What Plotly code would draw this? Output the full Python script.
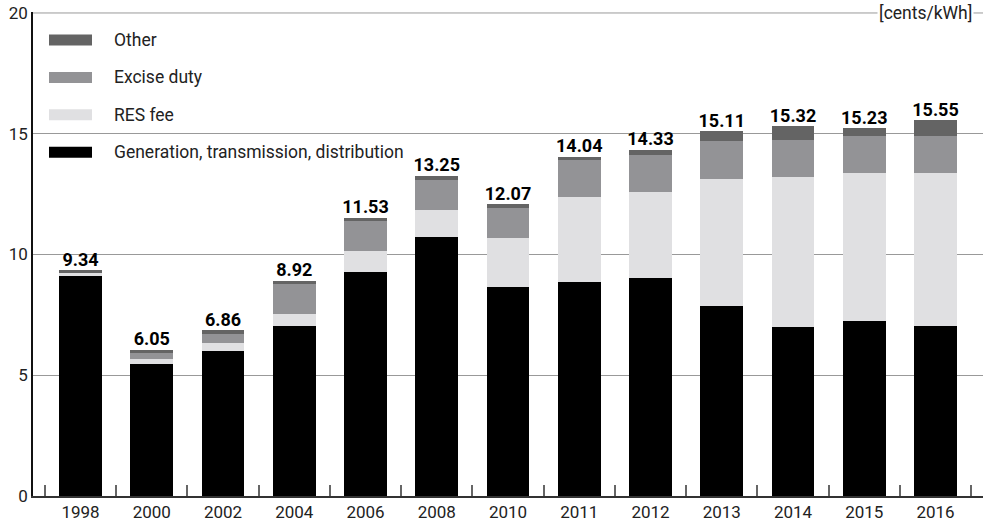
import plotly.graph_objects as go

years = ["1998", "2000", "2002", "2004", "2006", "2008", "2010", "2011", "2012", "2013", "2014", "2015", "2016"]
generation = [9.15, 5.47, 6.00, 7.04, 9.29, 10.72, 8.67, 8.86, 9.01, 7.88, 6.98, 7.23, 7.03]
res_fee = [0.08, 0.20, 0.34, 0.50, 0.85, 1.12, 2.01, 3.52, 3.58, 5.25, 6.23, 6.14, 6.34]
excise = [0.00, 0.26, 0.37, 1.24, 1.25, 1.24, 1.26, 1.53, 1.53, 1.57, 1.53, 1.53, 1.53]
other = [0.11, 0.12, 0.15, 0.14, 0.14, 0.17, 0.13, 0.13, 0.21, 0.41, 0.58, 0.33, 0.65]
totals = [9.34, 6.05, 6.86, 8.92, 11.53, 13.25, 12.07, 14.04, 14.33, 15.11, 15.32, 15.23, 15.55]

series = [
    ("Generation, transmission, distribution", generation, "#000000"),
    ("RES fee", res_fee, "#e0e0e2"),
    ("Excise duty", excise, "#939396"),
    ("Other", other, "#646464"),
]

FONT = "Roboto"
fig = go.Figure()
for name, vals, col in series:
    fig.add_trace(go.Bar(x=years, y=vals, name=name, marker=dict(color=col, line=dict(width=0)),
                         showlegend=False, hoverinfo="y+name"))

fig.add_trace(go.Scatter(x=years, y=totals, mode="text",
                         text=[f"{t:.2f}" for t in totals], textposition="top center",
                         textfont=dict(family=FONT, size=18, color="#000", weight=700),
                         showlegend=False, hoverinfo="skip"))

# manual legend (wide swatches), top to bottom
legend_items = [series[3], series[2], series[1], series[0]]
ml, mr, mt, mb = 33, 4, 12, 32
W, H = 987, 528
pw, ph = W - ml - mr, H - mt - mb
def px(x):
    return (x - ml) / pw
def py(y):
    return (H - mb - y) / ph

Y_TOP = 20
shapes = [dict(type="line", xref="paper", yref="y", x0=0, x1=1, y0=Y_TOP, y1=Y_TOP,
               line=dict(color="#999", width=1), layer="below")]
annotations = []
for i, (name, vals, col) in enumerate(legend_items):
    yc = 40 + i * 37.4
    shapes.append(dict(type="rect", xref="paper", yref="paper",
                       x0=px(49), x1=px(92), y0=py(yc + 5.5), y1=py(yc - 5.5),
                       fillcolor=col, line=dict(width=0), layer="above"))
    annotations.append(dict(xref="paper", yref="paper", x=px(112), y=py(yc),
                            xanchor="left", yanchor="middle", text=name, showarrow=False,
                            font=dict(family=FONT, size=17.5, color="#222")))

annotations.append(dict(xref="paper", yref="y", x=px(974), y=Y_TOP, xanchor="right", yanchor="middle",
                        text="[cents/kWh]", showarrow=False, bgcolor="white", borderpad=1,
                        font=dict(family=FONT, size=17.5, color="#222")))

fig.update_layout(
    barmode="stack", bargap=0.4,
    width=W, height=H,
    margin=dict(l=ml, r=mr, t=mt, b=mb),
    paper_bgcolor="white", plot_bgcolor="white",
    font=dict(family=FONT, size=17, color="#222"),
    shapes=shapes, annotations=annotations,
    xaxis=dict(type="category", showline=True, linecolor="#333", linewidth=2,
               ticks="inside", tickson="boundaries", ticklen=11, tickcolor="#666", tickwidth=1.5,
               showgrid=False, tickfont=dict(family=FONT, size=17, color="#222")),
    yaxis=dict(range=[0, 20.04], tickvals=[0, 5, 10, 15, 20], showline=True, linecolor="#111", linewidth=1.5,
               showgrid=True, gridcolor="#999", gridwidth=1, zeroline=False, ticks="",
               tickfont=dict(family=FONT, size=17, color="#222")),
)

fig.write_html("out.html")
